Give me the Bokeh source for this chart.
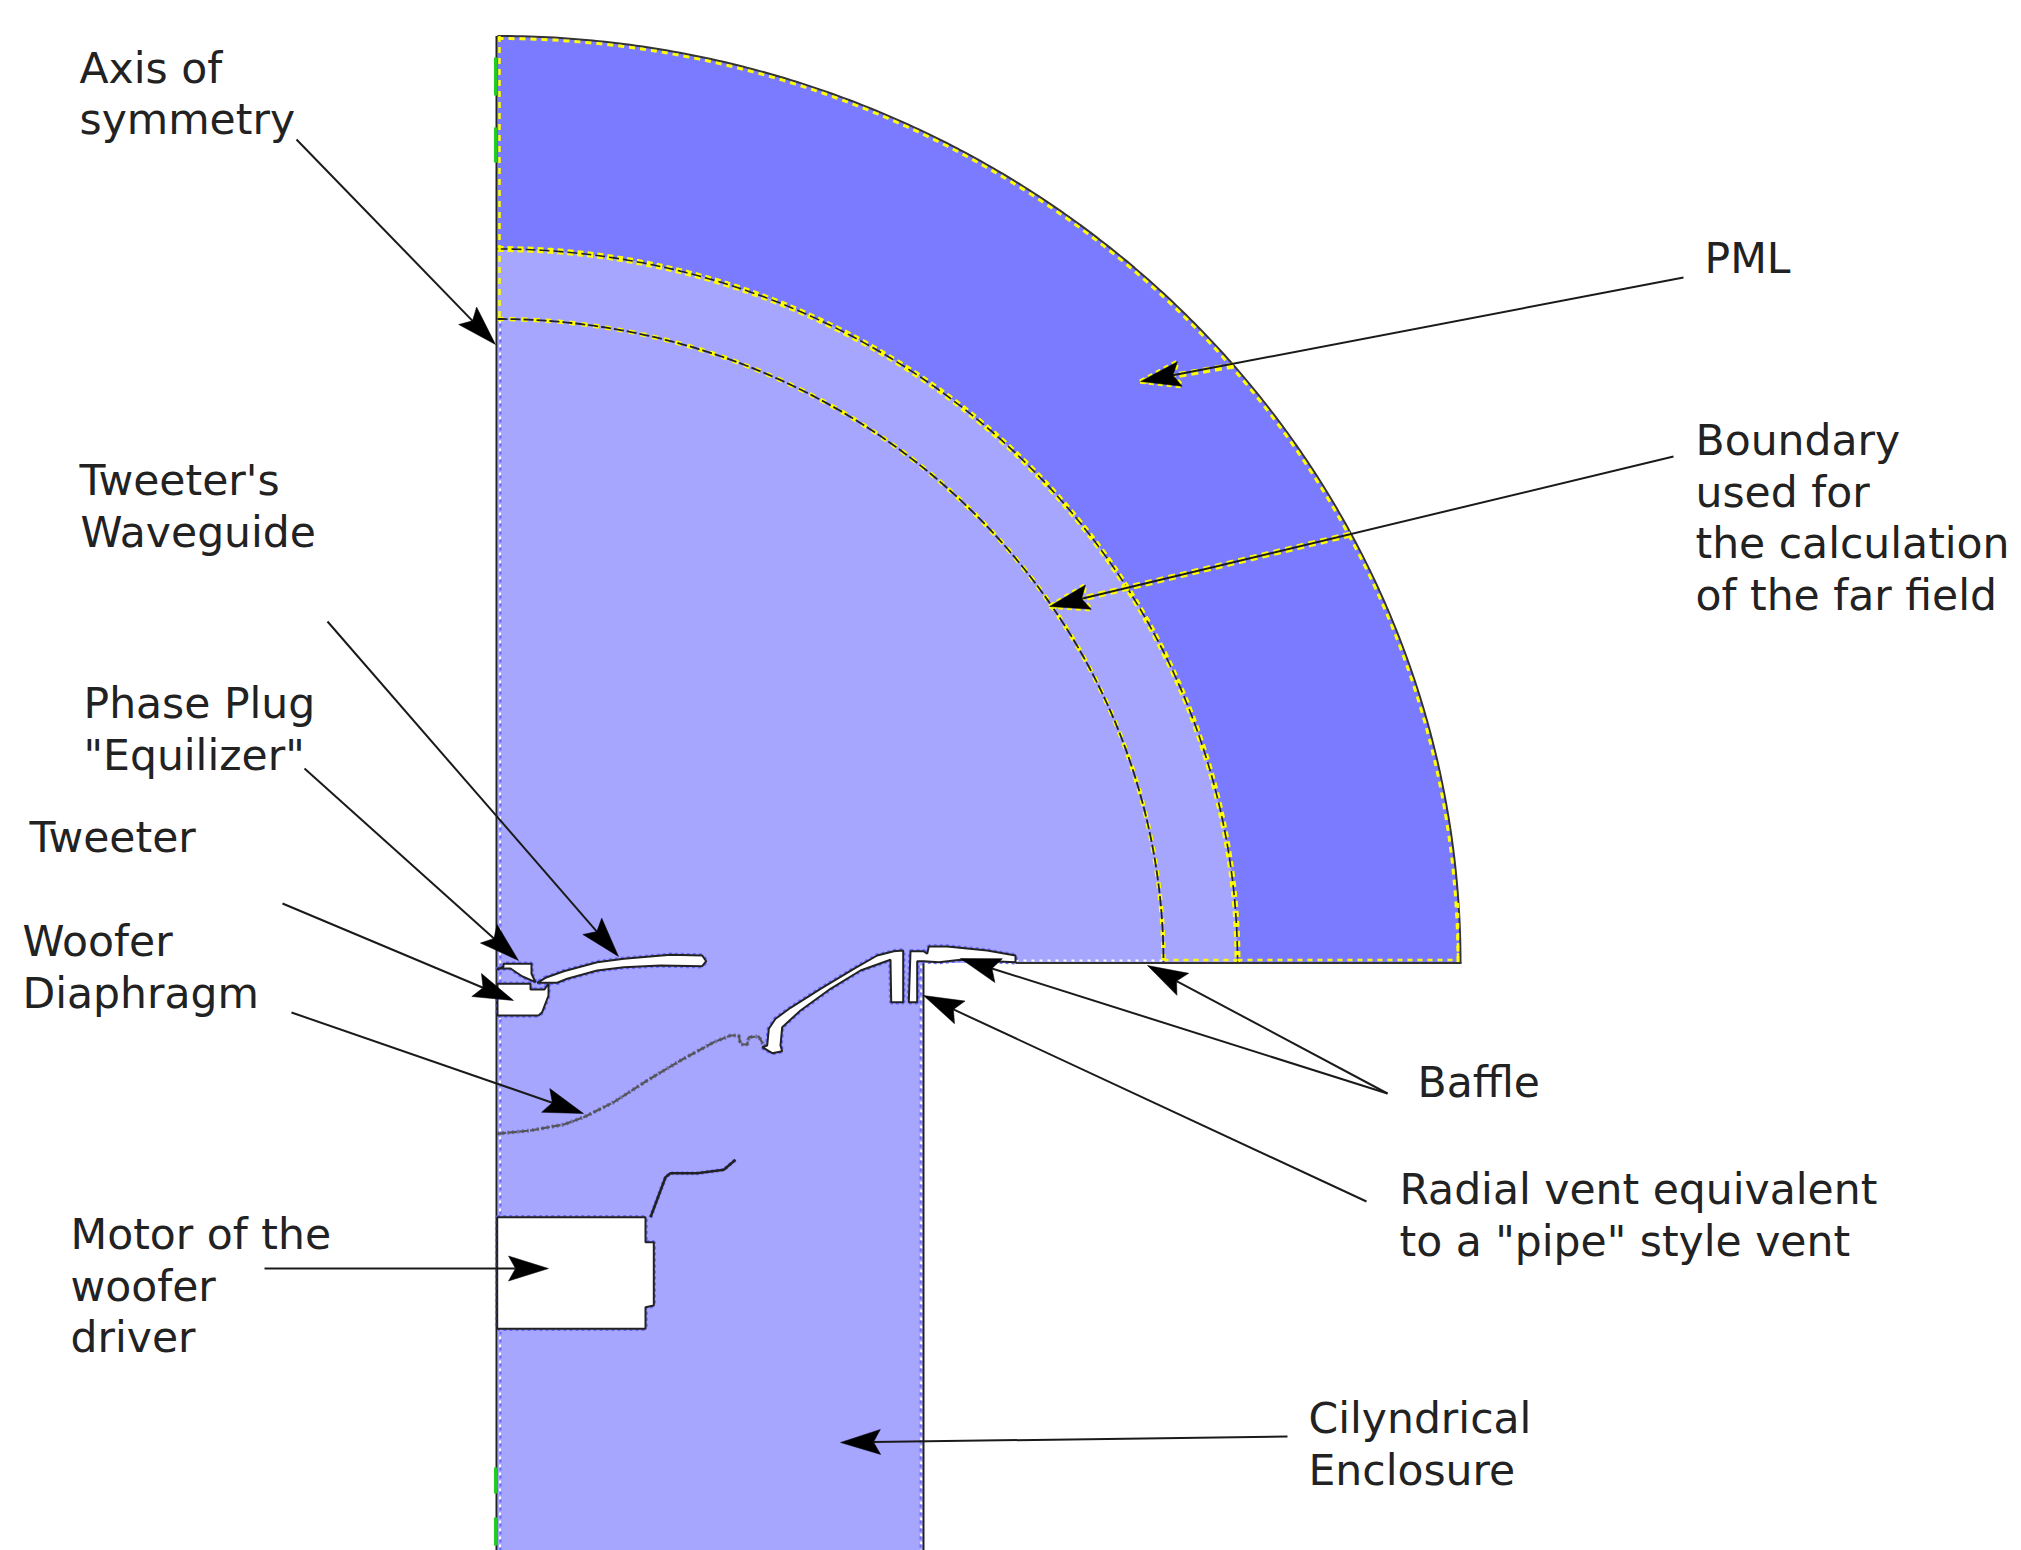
import numpy as np
from bokeh.plotting import figure
from bokeh.core.properties import value
from bokeh.embed import file_html
from bokeh.resources import INLINE

LIGHT = "#A6A6FF"
DARK = "#7B7BFF"
YELLOW = "#FFFF00"
GREEN = "#22CC22"

# ---- labels (x, baseline y, text) in reference pixels
label_text = ["Axis of", "symmetry", "PML", "Boundary", "used for", "the calculation", "of the far field",
              "Tweeter's", "Waveguide", "Phase Plug", "\"Equilizer\"", "Tweeter", "Woofer", "Diaphragm",
              "Baffle", "Radial vent equivalent", "to a \"pipe\" style vent",
              "Motor of the", "woofer", "driver", "Cilyndrical", "Enclosure"]
label_x = [79, 79, 1704, 1695, 1695, 1695, 1695,
           79, 80, 83, 83, 29, 22, 22,
           1417, 1399, 1399,
           70, 70, 70, 1308, 1308]
label_y = [67.5, 118.5, 257.5, 439.5, 491.5, 542.5, 594.5,
           479.5, 531.5, 702.5, 754.5, 836.5, 940.5, 992.5,
           1081.5, 1188.5, 1240.5,
           1233.5, 1285.5, 1336.5, 1417.5, 1469.5]

# ---- arrows
arrow_tail_x = [296, 1683, 1673, 327, 304, 282, 291, 264, 1387, 1387, 1366, 1287]
arrow_tail_y = [139, 277, 456, 621, 768, 903, 1012, 1268, 1093, 1093, 1201, 1436]
arrow_tip_x = [495, 1140, 1049, 618, 518, 513, 583, 548, 1147, 960, 923, 840]
arrow_tip_y = [344, 381, 606, 956, 960, 1000, 1113, 1268, 965, 958, 995, 1442]

# yellow-edged parts of the two arrows that cross the PML
yellow_from_x = [1233, 1350]
yellow_from_y = [365, 534]
yellow_to_x = [1140, 1049]
yellow_to_y = [381, 606]

# ---- domain geometry
axis_x = 497
base_y = 962.5
outer_rx, outer_ry = 963, 927
mid_rx, mid_ry = 740, 714
inner_rx, inner_ry = 666, 644
encl_right = 923
page_bottom = 1550

# ---- white cut-outs
waveguide_x = [545, 563.3, 596.7, 623.3, 670, 701.7, 705.7, 701.7, 660, 623.3, 596.7, 566.7, 556.7, 536.7]
waveguide_y = [977.3, 970.7, 961.7, 958.3, 954.3, 955, 960.7, 965.7, 965, 966.7, 970, 978.3, 982.3, 982.3]
plug_x = [497, 503, 503, 531, 531, 535, 522, 510, 497]
plug_y = [969, 966, 963.3, 963.3, 973.3, 981.7, 976, 968, 968]
pocket_x = [497, 530, 530, 544, 548, 548, 541.7, 538, 497]
pocket_y = [983.3, 983.3, 989, 989, 983, 995, 1011.7, 1015, 1015]
surround_x = [761.7, 771.7, 781.7, 780, 781.7, 800, 830, 860, 890, 890.7, 902.7, 902.7, 893.3, 876.7, 853.3, 820, 790, 775, 768.3, 766.7]
surround_y = [1046.7, 1052.7, 1050.7, 1045, 1026.7, 1010, 988.3, 970, 959.3, 1001.7, 1001.7, 950, 950.7, 955, 968.3, 988.3, 1007.3, 1018.3, 1028.3, 1045]
baffle_x = [908.3, 916.7, 916.7, 923.3, 938.3, 960, 1015, 1015, 986.7, 946.7, 928.3, 926.7, 923, 910]
baffle_y = [1001.7, 1001.7, 960.7, 960.7, 961.7, 959.3, 961.7, 955, 950, 946, 946, 953.3, 950.7, 950.7]
motor_x = [496.7, 645, 645, 653.3, 653.3, 645, 645, 496.7]
motor_y = [1216.7, 1216.7, 1241.7, 1241.7, 1305, 1306.7, 1328.3, 1328.3]
cutouts = [(waveguide_x, waveguide_y), (plug_x, plug_y), (pocket_x, pocket_y),
           (surround_x, surround_y), (baffle_x, baffle_y), (motor_x, motor_y)]

# ---- thin curves
membrane_x = [496.7, 530, 563.3, 583.3, 613.3, 646.7, 680, 713.3, 730, 738.3, 740, 746.7, 748.3, 758.3, 763.3]
membrane_y = [1133.3, 1130, 1124, 1116.7, 1101.7, 1080, 1060, 1041.7, 1035, 1035, 1044, 1044, 1036.7, 1036, 1045]
spider_x = [650, 665, 670, 696.7, 723.3, 735]
spider_y = [1216.7, 1176.7, 1172.7, 1172.7, 1169.3, 1159.3]

# ---- green marks on the axis
green_start = [57, 127, 1467, 1517]
green_end = [95, 162, 1493, 1545]


def arc(rx, ry, n=240):
    t = np.linspace(0, np.pi / 2, n)
    return axis_x + rx * np.sin(t), base_y - ry * np.cos(t)


p = figure(width=2021, height=1550, x_range=(0, 2021), y_range=(1550, 0),
           output_backend="svg", toolbar_location=None, min_border=0)
p.axis.visible = False
p.grid.visible = False
p.outline_line_color = None
p.background_fill_color = "white"
p.border_fill_color = "white"

ox, oy = arc(outer_rx, outer_ry)
mx, my = arc(mid_rx, mid_ry)
ix, iy = arc(inner_rx, inner_ry)

# fills
p.patch(list(mx) + [encl_right, encl_right, axis_x], list(my) + [base_y, page_bottom, page_bottom],
        fill_color=LIGHT, line_color=None)
p.patch(list(ox) + list(mx[::-1]), list(oy) + list(my[::-1]), fill_color=DARK, line_color=None)

# white dotted fringe on light domain boundaries
p.line([axis_x + 2.5, axis_x + 2.5], [320, page_bottom], line_color="white", line_width=2, line_dash="3 5")
p.line([axis_x + 3, axis_x + 3], [323, page_bottom], line_color="#6A6AFF", line_width=2, line_dash="3 5")
p.line([encl_right - 2, encl_right - 2], [965, page_bottom], line_color="white", line_width=2.5, line_dash="3 5")
p.line([encl_right - 3, encl_right - 3], [968, page_bottom], line_color="#6A6AFF", line_width=2, line_dash="3 5")
p.line([1015, axis_x + inner_rx], [base_y - 2.5, base_y - 2.5], line_color="white", line_width=2, line_dash="3 5")

# boundary lines: arcs
yx, yy = arc(outer_rx - 2.5, outer_ry - 2.5)
p.line(list(ox) + [ox[-1]], list(oy) + [base_y], line_color="#333333", line_width=2)
p.line(yx, yy, line_color=YELLOW, line_width=3, line_dash="6 5")
p.line(mx, my, line_color=YELLOW, line_width=6, line_dash="6 4")
p.line(mx, my, line_color="#222222", line_width=1.6, line_dash="10 4")
p.line(ix, iy, line_color=YELLOW, line_width=4.5, line_dash="6 6")
p.line(ix, iy, line_color="#222222", line_width=1.8, line_dash="10 3")

# boundary lines: base and axis
p.line([axis_x + inner_rx, axis_x + mid_rx], [base_y - 3, base_y - 3], line_color=YELLOW, line_width=2.5, line_dash="5 5")
p.line([axis_x + mid_rx, axis_x + outer_rx - 3], [base_y - 3, base_y - 3], line_color=YELLOW, line_width=2.5, line_dash="5 5")
p.line([axis_x + outer_rx - 2.5, axis_x + outer_rx - 2.5], [base_y - 60, base_y - 3], line_color=YELLOW, line_width=2.5, line_dash="5 5")
p.line([1015, axis_x + outer_rx + 1], [base_y, base_y], line_color="#333333", line_width=2.2)
p.line([axis_x + 2, axis_x + 2], [oy[0], iy[0]], line_color=YELLOW, line_width=2.5, line_dash="6 5")
p.line([axis_x - 1, axis_x - 1], [oy[0], page_bottom], line_color="#222222", line_width=2)
p.line([encl_right, encl_right], [962, page_bottom], line_color="#222222", line_width=2)
for s, e in zip(green_start, green_end):
    p.line([axis_x - 2, axis_x - 2], [s, e], line_color=GREEN, line_width=3)

# white cut-outs, each with dotted fringe and black edge
for cx, cy in cutouts:
    p.patch(cx, cy, fill_color=None, line_color="#6A6AFF", line_width=4.5, line_dash="3 3")
for cx, cy in cutouts:
    p.patch(cx, cy, fill_color="white", line_color="#222222", line_width=2)

# thin curves
p.line(membrane_x, membrane_y, line_color="#7070B0", line_width=4, line_dash="2 3")
p.line(membrane_x, membrane_y, line_color="#555555", line_width=2.2, line_dash="9 2")
p.line(spider_x, spider_y, line_color="#6A6AFF", line_width=4, line_dash="2 3")
p.line(spider_x, spider_y, line_color="#222222", line_width=2.6)

# yellow halo of PML arrows
for x0, y0, x1, y1 in zip(yellow_from_x, yellow_from_y, yellow_to_x, yellow_to_y):
    p.line([x0, x1], [y0, y1], line_color=YELLOW, line_width=6, line_dash="7 5")


def head(tx, ty, hx, hy, length=40, half=12.5, notch=33):
    d = np.array([hx - tx, hy - ty], dtype=float)
    d /= np.hypot(*d)
    n = np.array([-d[1], d[0]])
    tip = np.array([hx, hy])
    a = tip - d * length + n * half
    b = tip - d * notch
    c = tip - d * length - n * half
    return [tip[0], a[0], b[0], c[0]], [tip[1], a[1], b[1], c[1]], b


for i, (tx, ty, hx, hy) in enumerate(zip(arrow_tail_x, arrow_tail_y, arrow_tip_x, arrow_tip_y)):
    xs, ys, b = head(tx, ty, hx, hy)
    if i in (1, 2):
        p.patch(xs, ys, fill_color=None, line_color=YELLOW, line_width=4.5, line_dash="5 4")
    p.line([tx, b[0]], [ty, b[1]], line_color="#1a1a1a", line_width=2)
    p.patch(xs, ys, fill_color="black", line_color="black", line_width=0.5)

# texts
p.text(x=label_x, y=label_y, text=label_text, text_font=value("DejaVu Sans"),
       text_font_size="42.5px", text_color="#222222", text_baseline="alphabetic", text_align="left")

open("out.html", "w").write(file_html(p, INLINE))
